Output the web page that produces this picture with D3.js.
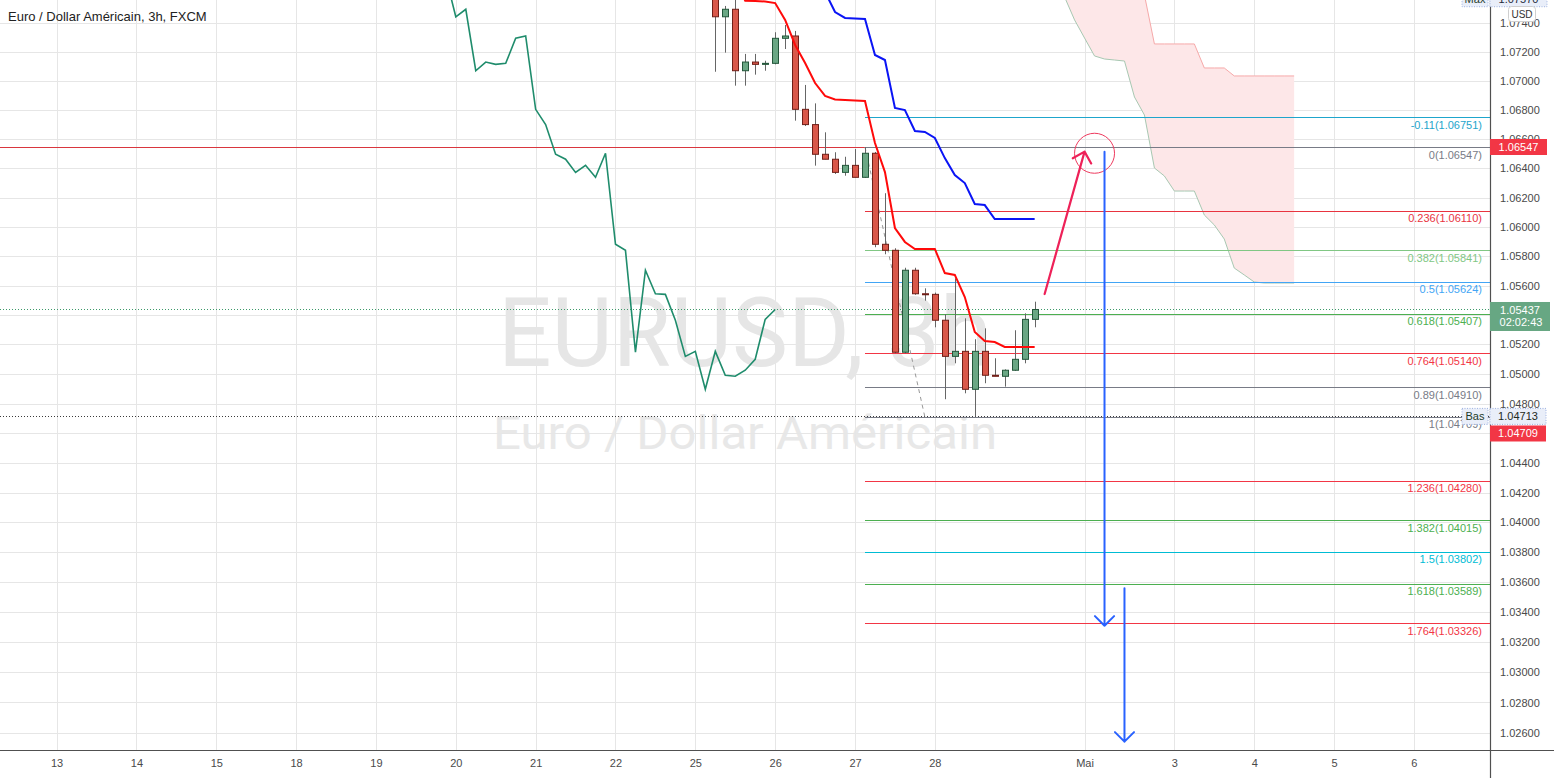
<!DOCTYPE html>
<html><head><meta charset="utf-8">
<script src="https://cdn.jsdelivr.net/npm/d3@7"></script>
<style>
body{margin:0;background:#fff;overflow:hidden}
svg{display:block;font-family:"Liberation Sans",Arial,sans-serif}
</style>
</head><body>
<svg id="chart" width="1554" height="778"></svg>
<script>
// ---------------- DATA ----------------
const priceTicks = [1.026,1.028,1.030,1.032,1.034,1.036,1.038,1.040,1.042,1.044,1.046,1.048,1.050,1.052,1.054,1.056,1.058,1.060,1.062,1.064,1.066,1.068,1.070,1.072,1.074];
const dayBars   = [-80,-72,-64,-56,-48,-40,-32,-24,-16,-8,0,8,23,32,40,48,56];
const dayLabels = ["13","14","15","18","19","20","21","22","25","26","27","28","Mai","3","4","5","6"];

// 3h candles (bar index)
const candleBars = [-15,-14,-13,-12,-11,-10,-9,-8,-7,-6,-5,-4,-3,-2,-1,0,1,2,3,4,5,6,7,8,9,10,11,12,13,14,15,16,17,18];
const opens  = [1.07760,1.07565,1.07445,1.07497,1.07072,1.07132,1.07116,1.07123,1.07296,1.07312,1.06806,1.06701,1.06497,1.06463,1.06373,1.06421,1.06339,1.06504,1.05881,1.05840,1.05147,1.05704,1.05544,1.05540,1.05364,1.05119,1.05153,1.04896,1.05153,1.04991,1.04984,1.05025,1.05099,1.05370];
const highs  = [1.07800,1.07568,1.07520,1.07570,1.07188,1.07188,1.07141,1.07338,1.07388,1.07347,1.06974,1.06847,1.06648,1.06511,1.06480,1.06533,1.06547,1.06513,1.06230,1.05854,1.05721,1.05721,1.05581,1.05552,1.05406,1.05649,1.05377,1.05235,1.05309,1.05106,1.05031,1.05296,1.05411,1.05490];
const lows   = [1.07640,1.07065,1.07197,1.06969,1.06969,1.07045,1.07072,1.07116,1.07222,1.06728,1.06691,1.06419,1.06463,1.06362,1.06350,1.06339,1.06335,1.05861,1.05813,1.05140,1.05140,1.05537,1.05497,1.05316,1.04829,1.05072,1.04869,1.04713,1.04937,1.04984,1.04914,1.05020,1.05072,1.05316];
const closes = [1.07721,1.07445,1.07497,1.07072,1.07132,1.07116,1.07123,1.07296,1.07312,1.06806,1.06701,1.06497,1.06463,1.06373,1.06421,1.06339,1.06504,1.05881,1.05840,1.05147,1.05704,1.05544,1.05540,1.05364,1.05119,1.05153,1.04896,1.05153,1.04991,1.04984,1.05025,1.05099,1.05370,1.05437];
const chikouShift = 26;

// Ichimoku lines
const tenkanBars = [-12,-11,-10,-9,-8,-7,-6,-5,-4,-3,-2,-1,0,1,2,3,4,5,6,7,8,9,10,11,12,13,14,15,16,17,18];
const tenkan = [1.07700,1.07556,1.07554,1.07551,1.07540,1.07423,1.07250,1.07125,1.06987,1.06898,1.06874,1.06870,1.06867,1.06863,1.06574,1.06375,1.05992,1.05897,1.05849,1.05849,1.05849,1.05685,1.05672,1.05522,1.05284,1.05223,1.05216,1.05183,1.05183,1.05183,1.05183];
const kijunBars = [-3,-2,-1,0,1,2,3,4,5,6,7,8,9,10,11,12,13,14,15,16,17,18];
const kijun = [1.07617,1.07478,1.07437,1.07433,1.07430,1.07181,1.07146,1.06815,1.06801,1.06657,1.06650,1.06609,1.06471,1.06355,1.06300,1.06156,1.06149,1.06054,1.06054,1.06054,1.06054,1.06054];
const cloudBars = [20,21,22,23,24,25,26,27,28,29,30,31,32,33,34,35,36,37,38,39,40,41,42,43,44];
const spanA = [1.07735,1.07582,1.07423,1.07298,1.07174,1.07153,1.07146,1.07139,1.06891,1.06767,1.06403,1.06348,1.06245,1.06245,1.06245,1.06081,1.06013,1.05917,1.05719,1.05672,1.05624,1.05617,1.05617,1.05617,1.05617];
const spanB = [1.08050,1.08050,1.08050,1.08050,1.08050,1.08050,1.08050,1.08050,1.08050,1.07596,1.07257,1.07257,1.07257,1.07257,1.07257,1.07091,1.07091,1.07091,1.07036,1.07036,1.07036,1.07036,1.07036,1.07036,1.07036];

// Fibonacci retracement
const fibLevels = [-0.11,0,0.236,0.382,0.5,0.618,0.764,0.89,1,1.236,1.382,1.5,1.618,1.764];
const fibPrices = [1.06751,1.06547,1.06110,1.05841,1.05624,1.05407,1.05140,1.04910,1.04709,1.04280,1.04015,1.03802,1.03589,1.03326];
const fibStartBar = 1;
const fibTrendBars = [1,7];
const fibTrendPrices = [1.06547,1.04709];

// Horizontal lines / labels
const hLinePrice = 1.06547;
const lastPrice = 1.05437;
const countdown = "02:02:43";
const lowPrice = 1.04713;
const lowLinePrice = 1.04709;
const highPrice = 1.07570;

// Drawings (bar, price)
const upArrow = [[19,1.05542],[23,1.06515]];
const downArrow1 = [[25,1.06515],[25,1.03310]];
const downArrow2 = [[27,1.03559],[27,1.02541]];
const circleCenter = [24,1.06504];

// ---------------- STYLE ----------------
const fibColors = ["#1ea5cc","#787b86","#e8343f","#81c784","#42a5f5","#4caf50","#f23645","#787b86","#787b86","#f23645","#4caf50","#00bcd4","#4caf50","#f23645"];
const W = 1554, H = 778, PR = 1490, PB = 750;

const svg = d3.select("#chart");
svg.append("rect").attr("width",W).attr("height",H).attr("fill","#fff");

const x = d3.scaleLinear().domain([-80,56]).range([56.6,1413.9]);
const y = d3.scaleLog().domain([1.03326,1.06547]).range([623.3,147]);

svg.append("clipPath").attr("id","plot").append("rect").attr("x",0).attr("y",0).attr("width",PR).attr("height",PB);
const g = svg.append("g").attr("clip-path","url(#plot)");

// watermark
g.append("text").attr("x",745).attr("y",366).attr("text-anchor","middle")
  .attr("font-family","Roboto, 'Liberation Sans', sans-serif").attr("font-size",97)
  .attr("textLength",494).attr("lengthAdjust","spacingAndGlyphs")
  .attr("fill","#e6e6e6").text("EURUSD, 3h");
g.append("text").attr("x",745).attr("y",449).attr("text-anchor","middle")
  .attr("font-family","Roboto, 'Liberation Sans', sans-serif").attr("font-size",46)
  .attr("textLength",504).attr("lengthAdjust","spacingAndGlyphs")
  .attr("fill","#e8e8e8").text("Euro / Dollar Américain");

// grid
g.append("g").selectAll("line").data(priceTicks).join("line")
  .attr("x1",0).attr("x2",PR).attr("y1",d=>Math.round(y(d))+0.5).attr("y2",d=>Math.round(y(d))+0.5)
  .attr("stroke","#e6e6e6").attr("stroke-width",1);
g.append("g").selectAll("line").data(dayBars).join("line")
  .attr("y1",0).attr("y2",PB).attr("x1",d=>Math.round(x(d))+0.5).attr("x2",d=>Math.round(x(d))+0.5)
  .attr("stroke","#e6e6e6").attr("stroke-width",1);

// cloud
const cloud = cloudBars.map((b,i)=>({b,a:spanA[i],s:spanB[i]}));
g.append("path").datum(cloud)
  .attr("d",d3.area().x(d=>x(d.b)).y0(d=>y(d.a)).y1(d=>y(d.s)))
  .attr("fill","#fde7e8");
g.append("path").datum(cloud).attr("d",d3.line().x(d=>x(d.b)).y(d=>y(d.a)))
  .attr("fill","none").attr("stroke","#a8c8b2").attr("stroke-width",1);
g.append("path").datum(cloud).attr("d",d3.line().x(d=>x(d.b)).y(d=>y(d.s)))
  .attr("fill","none").attr("stroke","#f6a9a9").attr("stroke-width",1);

// horizontal full-width lines
const hy = v => Math.round(y(v))+0.5;
g.append("line").attr("x1",0).attr("x2",PR).attr("y1",hy(hLinePrice)).attr("y2",hy(hLinePrice))
  .attr("stroke","#d9363e").attr("stroke-width",1);
g.append("line").attr("x1",0).attr("x2",PR).attr("y1",hy(lastPrice)).attr("y2",hy(lastPrice))
  .attr("stroke","#3d9a6a").attr("stroke-width",1).attr("stroke-dasharray","1,2");

// fib lines
const fib = fibLevels.map((l,i)=>({l,p:fibPrices[i],c:fibColors[i]}));
g.append("g").selectAll("line").data(fib).join("line")
  .attr("x1",x(fibStartBar)).attr("x2",PR).attr("y1",d=>hy(d.p)).attr("y2",d=>hy(d.p))
  .attr("stroke",d=>d.c).attr("stroke-width",1);
g.append("g").selectAll("text").data(fib).join("text")
  .attr("x",1482).attr("y",d=>y(d.p)+11.5).attr("text-anchor","end")
  .attr("font-size",11).attr("fill",d=>d.c)
  .text(d=>`${d.l}(${d.p.toFixed(5)})`);
g.append("line").attr("x1",0).attr("x2",PR).attr("y1",hy(lowPrice)).attr("y2",hy(lowPrice))
  .attr("stroke","#3a3a3a").attr("stroke-width",1).attr("stroke-dasharray","1,2");
g.append("line")
  .attr("x1",x(fibTrendBars[0])).attr("y1",y(fibTrendPrices[0]))
  .attr("x2",x(fibTrendBars[1])).attr("y2",y(fibTrendPrices[1]))
  .attr("stroke","#999").attr("stroke-width",1).attr("stroke-dasharray","4,4");

// chikou span
const candles = candleBars.map((b,i)=>({b,o:opens[i],h:highs[i],l:lows[i],c:closes[i]}));
g.append("path").datum(candles)
  .attr("d",d3.line().x(d=>x(d.b-chikouShift)).y(d=>y(d.c)))
  .attr("fill","none").attr("stroke","#1f8c6c").attr("stroke-width",1.6);

// candles
const cg = g.append("g");
candles.forEach(d=>{
  const cx = Math.round(x(d.b));
  const up = d.c >= d.o;
  cg.append("line").attr("x1",cx+0.5).attr("x2",cx+0.5).attr("y1",y(d.h)).attr("y2",y(d.l))
    .attr("stroke","#666").attr("stroke-width",1);
  const top = y(Math.max(d.o,d.c)), bot = y(Math.min(d.o,d.c));
  cg.append("rect").attr("x",cx-2.5).attr("width",6)
    .attr("y",top).attr("height",Math.max(1,bot-top))
    .attr("fill",up?"#6aa784":"#d9584a").attr("stroke",up?"#23563a":"#6f1f18").attr("stroke-width",1);
});

// tenkan / kijun
const tk = tenkanBars.map((b,i)=>({b,v:tenkan[i]}));
const kj = kijunBars.map((b,i)=>({b,v:kijun[i]}));
const ln = d3.line().x(d=>x(d.b)).y(d=>y(d.v));
g.append("path").datum(tk).attr("d",ln).attr("fill","none").attr("stroke","#ff0a0a").attr("stroke-width",2);
g.append("path").datum(kj).attr("d",ln).attr("fill","none").attr("stroke","#0a14f5").attr("stroke-width",2);

// drawings
function arrow(pts,color,w){
  const x0=x(pts[0][0]),y0=y(pts[0][1]),x1=x(pts[1][0]),y1=y(pts[1][1]);
  const a=Math.atan2(y0-y1,x0-x1), L=13.5, s=Math.PI/4;
  const p = `M${x0},${y0}L${x1},${y1}M${x1+L*Math.cos(a-s)},${y1+L*Math.sin(a-s)}L${x1},${y1}L${x1+L*Math.cos(a+s)},${y1+L*Math.sin(a+s)}`;
  g.append("path").attr("d",p).attr("fill","none").attr("stroke",color).attr("stroke-width",w)
    .attr("stroke-linecap","round").attr("stroke-linejoin","round");
}
g.append("circle").attr("cx",x(circleCenter[0])).attr("cy",y(circleCenter[1])).attr("r",20)
  .attr("fill","none").attr("stroke","#ee3a5e").attr("stroke-width",1);
arrow(upArrow,"#ee2158",2.2);
arrow(downArrow1,"#2962ff",2);
arrow(downArrow2,"#2962ff",2);

// ---------------- AXES ----------------
// tick labels fully covered by the highlighted price labels are hidden, as on the source chart
const coveredRanges = [[y(lastPrice)-8,y(lastPrice)+22],[y(lowLinePrice)+8,y(lowLinePrice)+25]];
const shownTicks = priceTicks.filter(t=>!coveredRanges.some(r=>y(t)>r[0]&&y(t)<r[1]));
const yAxis = svg.append("g").attr("transform",`translate(${PR},0)`)
  .call(d3.axisRight(y).tickValues(shownTicks).tickFormat(d=>d.toFixed(5)).tickSize(0).tickPadding(10));
yAxis.select(".domain").remove();
yAxis.selectAll("text").attr("font-size",11).attr("fill","#4a4a4a").attr("font-family","'Liberation Sans',Arial,sans-serif");

const xAxis = svg.append("g").attr("transform",`translate(0,${PB})`)
  .call(d3.axisBottom(x).tickValues(dayBars).tickFormat((d,i)=>dayLabels[i]).tickSize(0).tickPadding(9));
xAxis.select(".domain").remove();
xAxis.selectAll("text").attr("font-size",11).attr("fill","#4a4a4a").attr("font-family","'Liberation Sans',Arial,sans-serif");

svg.append("line").attr("x1",0).attr("x2",W).attr("y1",PB+0.5).attr("y2",PB+0.5).attr("stroke","#505050").attr("stroke-width",1.2);
svg.append("line").attr("x1",PR+0.5).attr("x2",PR+0.5).attr("y1",0).attr("y2",H).attr("stroke","#505050").attr("stroke-width",1.2);

// price boxes
function box(x0,x1,cy,h,fill,textColor,label,stroke){
  const r = svg.append("rect").attr("x",x0).attr("y",cy-h/2).attr("width",x1-x0).attr("height",h).attr("fill",fill);
  if(stroke) r.attr("stroke",stroke).attr("stroke-dasharray","1,1.5").attr("stroke-width",1);
  svg.append("text").attr("x",(x0+x1)/2).attr("y",cy+4).attr("text-anchor","middle")
    .attr("font-size",11).attr("fill",textColor).text(label);
}
box(1490,1547,y(highPrice),16,"#e9eef9","#1e2a3a",highPrice.toFixed(5),"#9db2e0");
box(1462,1488,y(highPrice),16,"#e9eef9","#1e3a2a","Max","#9db2e0");
box(1490,1547,y(hLinePrice),16,"#f23645","#fff",hLinePrice.toFixed(5));
// last price (two lines)
{
  const cy = y(lastPrice);
  svg.append("rect").attr("x",1490).attr("y",cy-7.5).attr("width",60).attr("height",29).attr("fill","#67a783");
  svg.append("text").attr("x",1520).attr("y",cy+4.5).attr("text-anchor","middle").attr("font-size",11).attr("fill","#fff").text(lastPrice.toFixed(5));
  svg.append("text").attr("x",1521).attr("y",cy+16.5).attr("text-anchor","middle").attr("font-size",11).attr("fill","#fff").text(countdown);
}
box(1462,1488,y(lowPrice),16,"#e9eef9","#1e3a2a","Bas","#9db2e0");
box(1490,1546,y(lowPrice),16,"#e9eef9","#1e2a22",lowPrice.toFixed(5),"#9db2e0");
box(1490,1546,y(lowLinePrice)+16.5,16,"#f23645","#fff",lowLinePrice.toFixed(5));

// currency box
svg.append("rect").attr("x",1508.5).attr("y",6.5).attr("width",27).attr("height",15).attr("rx",3)
  .attr("fill","#fff").attr("stroke","#cfcfcf");
svg.append("text").attr("x",1522).attr("y",18).attr("text-anchor","middle").attr("font-size",10).attr("fill","#333").text("USD");

// header
svg.append("text").attr("x",8).attr("y",21).attr("font-size",13).attr("fill","#222").text("Euro / Dollar Américain, 3h, FXCM");
</script>
</body></html>
